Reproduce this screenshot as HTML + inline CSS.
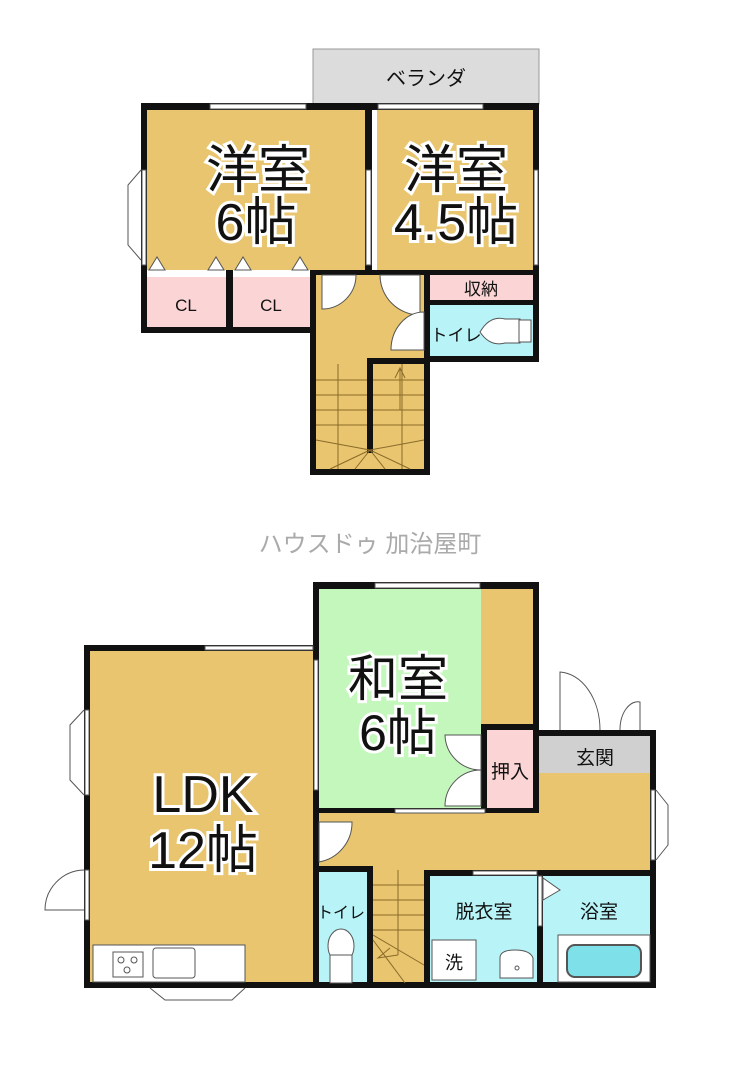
<!DOCTYPE html>
<html><head><meta charset="utf-8"><style>
html,body{margin:0;padding:0;background:#fff;}
svg{display:block;}
text{font-family:"Liberation Sans","Noto Sans CJK JP",sans-serif;fill:#111;}
</style></head><body>
<svg width="740" height="1090" viewBox="0 0 740 1090" xmlns="http://www.w3.org/2000/svg">
<rect x="313" y="49" width="226" height="55" fill="#dcdcdc" stroke="#999" stroke-width="1"/>
<text x="426" y="85" font-size="20" text-anchor="middle">ベランダ</text>
<rect x="147" y="110" width="218" height="160" fill="#e8c56e"/>
<rect x="377" y="110" width="156" height="165" fill="#e8c56e"/>
<rect x="147" y="275" width="79" height="52" fill="#fbd5d5"/>
<rect x="233" y="275" width="77" height="52" fill="#fbd5d5"/>
<rect x="147" y="270" width="163" height="7" fill="#fff"/>
<rect x="316" y="270" width="108" height="200" fill="#e8c56e"/>
<rect x="430" y="275" width="103" height="25" fill="#fbd5d5"/>
<rect x="430" y="305" width="103" height="52" fill="#b8f3f8"/>
<g fill="#111">
<rect x="141" y="103" width="398" height="7"/>
<rect x="141" y="103" width="6" height="230"/>
<rect x="141" y="327" width="175" height="6"/>
<rect x="226" y="270" width="7" height="63"/>
<rect x="365" y="103" width="7" height="172"/>
<rect x="533" y="103" width="6" height="259"/>
<rect x="310" y="270" width="6" height="205"/>
<rect x="424" y="270" width="6" height="205"/>
<rect x="310" y="469" width="120" height="6"/>
<rect x="310" y="270" width="229" height="5"/>
<rect x="430" y="300" width="109" height="5"/>
<rect x="430" y="356" width="109" height="6"/>
<rect x="367" y="358" width="63" height="6"/>
<rect x="367" y="358" width="6" height="95"/>
</g>
<g fill="#fff" stroke="#555" stroke-width="1">
<rect x="210" y="104" width="96" height="5"/>
<rect x="378" y="104" width="105" height="5"/>
<rect x="142" y="170" width="4" height="95"/>
<rect x="366" y="170" width="5" height="95"/>
<rect x="534" y="170" width="4" height="95"/>
</g>
<path d="M141 170 L128 185 L128 245 L141 260" fill="none" stroke="#555"/>
<g fill="#fff" stroke="#555" stroke-width="1">
<path d="M149 270 L157 257 L165 270Z"/><path d="M208 270 L216 257 L224 270Z"/>
<path d="M235 270 L243 257 L251 270Z"/><path d="M292 270 L300 257 L308 270Z"/>
</g>
<text x="186" y="311" font-size="17" text-anchor="middle">CL</text>
<text x="271" y="311" font-size="17" text-anchor="middle">CL</text>
<text x="258" y="188" font-size="52" text-anchor="middle" stroke="#fff" stroke-width="6" paint-order="stroke">洋室</text>
<text x="256" y="240" font-size="52" text-anchor="middle" stroke="#fff" stroke-width="6" paint-order="stroke">6帖</text>
<text x="456" y="188" font-size="52" text-anchor="middle" stroke="#fff" stroke-width="6" paint-order="stroke">洋室</text>
<text x="456" y="240" font-size="52" text-anchor="middle" stroke="#fff" stroke-width="6" paint-order="stroke">4.5帖</text>
<text x="481" y="295" font-size="17" text-anchor="middle">収納</text>
<text x="456" y="341" font-size="17" text-anchor="middle">トイレ</text>
<path d="M480 332 Q490 315 505 319 L520 319 L520 343 L505 343 Q490 347 480 332Z" fill="#fff" stroke="#555"/>
<rect x="519" y="320" width="12" height="22" fill="#fff" stroke="#555"/>
<g fill="#fff" stroke="#555" stroke-width="1">
<path d="M322 275 L356 275 A34 34 0 0 1 322 309Z"/>
<path d="M420 275 L380 275 A40 40 0 0 0 420 315Z"/>
<path d="M424 312 L424 350 L391 350 A33 38 0 0 1 424 312Z"/>
</g>
<g stroke="#8a6a2a" stroke-width="1">
<line x1="316" y1="380" x2="367" y2="380"/><line x1="316" y1="395" x2="367" y2="395"/><line x1="316" y1="410" x2="367" y2="410"/><line x1="316" y1="425" x2="367" y2="425"/>
<line x1="373" y1="380" x2="424" y2="380"/><line x1="373" y1="395" x2="424" y2="395"/><line x1="373" y1="410" x2="424" y2="410"/><line x1="373" y1="425" x2="424" y2="425"/>
<line x1="338" y1="364" x2="338" y2="469"/><line x1="402" y1="364" x2="402" y2="469"/>
<line x1="370" y1="450" x2="316" y2="440"/><line x1="370" y1="450" x2="330" y2="469"/><line x1="370" y1="450" x2="355" y2="469"/>
<line x1="370" y1="450" x2="385" y2="469"/><line x1="370" y1="450" x2="410" y2="469"/><line x1="370" y1="450" x2="424" y2="440"/>
<line x1="400" y1="410" x2="400" y2="368"/><path d="M395 378 L400 368 L405 378" fill="none"/>
</g>

<text x="370" y="552" font-size="24" text-anchor="middle" style="fill:#aaa">ハウスドゥ 加治屋町</text>

<rect x="90" y="651" width="223" height="331" fill="#e8c56e"/>
<rect x="319" y="589" width="162" height="219" fill="#c4f7bc"/>
<rect x="481" y="589" width="52" height="135" fill="#e8c56e"/>
<rect x="487" y="730" width="46" height="78" fill="#fbd5d5"/>
<rect x="313" y="813" width="337" height="57" fill="#e8c56e"/>
<rect x="539" y="736" width="111" height="37" fill="#d0d0d0"/>
<rect x="539" y="773" width="111" height="40" fill="#e8c56e"/>
<rect x="316" y="870" width="51" height="113" fill="#b8f3f8"/>
<rect x="373" y="870" width="51" height="113" fill="#e8c56e"/>
<rect x="430" y="876" width="107" height="107" fill="#b8f3f8"/>
<rect x="543" y="876" width="107" height="107" fill="#b8f3f8"/>
<g fill="#111">
<rect x="84" y="645" width="235" height="6"/>
<rect x="84" y="645" width="6" height="343"/>
<rect x="84" y="982" width="572" height="6"/>
<rect x="313" y="582" width="226" height="7"/>
<rect x="313" y="582" width="6" height="231"/>
<rect x="533" y="582" width="6" height="142"/>
<rect x="481" y="724" width="58" height="6"/>
<rect x="481" y="724" width="6" height="89"/>
<rect x="533" y="730" width="6" height="83"/>
<rect x="539" y="730" width="117" height="6"/>
<rect x="650" y="730" width="6" height="258"/>
<rect x="313" y="808" width="226" height="5"/>
<rect x="313" y="813" width="6" height="175"/>
<rect x="313" y="866" width="60" height="6"/>
<rect x="367" y="866" width="6" height="118"/>
<rect x="424" y="870" width="6" height="114"/>
<rect x="424" y="870" width="232" height="6"/>
<rect x="537" y="870" width="6" height="114"/>
</g>
<g fill="#fff" stroke="#555" stroke-width="1">
<rect x="375" y="583" width="105" height="5"/>
<rect x="205" y="646" width="108" height="4"/>
<rect x="314" y="660" width="4" height="130"/>
<rect x="85" y="710" width="4" height="85"/>
<rect x="85" y="870" width="4" height="50"/>
<rect x="651" y="790" width="4" height="70"/>
<rect x="395" y="809" width="90" height="4"/>
<rect x="473" y="871" width="64" height="4"/>
<rect x="538" y="876" width="4" height="50"/>
</g>
<path d="M84 710 L70 725 L70 780 L84 795" fill="none" stroke="#555"/>
<path d="M84 870 A40 40 0 0 0 45 910 L84 910" fill="#fff" stroke="#555"/>
<path d="M150 988 L165 1000 L232 1000 L245 988" fill="none" stroke="#555"/>
<path d="M656 790 L668 805 L668 845 L656 860" fill="none" stroke="#555"/>
<g fill="#fff" stroke="#555">
<path d="M560 730 L560 672 A42 58 0 0 1 600 730"/>
<path d="M640 730 L640 702 A18 28 0 0 0 620 730"/>
</g>
<g fill="#fff" stroke="#555">
<path d="M481 735 L445 735 A36 36 0 0 0 481 770Z"/>
<path d="M481 806 L445 806 A36 36 0 0 1 481 770Z"/>
<path d="M319 822 L319 862 A40 40 0 0 0 352 822Z"/>
<path d="M543 878 L543 900 L560 890Z"/>
</g>
<rect x="93" y="945" width="152" height="37" fill="#fff" stroke="#555"/>
<rect x="113" y="952" width="30" height="25" fill="#fff" stroke="#555"/>
<circle cx="121" cy="960" r="3" fill="none" stroke="#555"/><circle cx="134" cy="960" r="3" fill="none" stroke="#555"/><circle cx="127" cy="970" r="3" fill="none" stroke="#555"/>
<rect x="153" y="948" width="42" height="30" rx="3" fill="#fff" stroke="#555"/>
<ellipse cx="341" cy="946" rx="13" ry="17" fill="#fff" stroke="#555"/>
<rect x="330" y="955" width="22" height="28" fill="#fff" stroke="#555"/>
<g stroke="#8a6a2a">
<line x1="373" y1="885" x2="424" y2="885"/><line x1="373" y1="900" x2="424" y2="900"/><line x1="373" y1="915" x2="424" y2="915"/><line x1="373" y1="930" x2="424" y2="930"/>
<line x1="398" y1="870" x2="398" y2="955"/>
<line x1="373" y1="935" x2="424" y2="965"/><line x1="373" y1="940" x2="405" y2="983"/>
<path d="M398 955 L378 958 L390 948" fill="none"/>
</g>
<rect x="432" y="940" width="44" height="40" fill="#fff" stroke="#555"/>
<text x="454" y="969" font-size="18" text-anchor="middle">洗</text>
<path d="M500 958 Q500 950 515 950 Q530 950 533 958 L533 978 L500 978Z" fill="#fff" stroke="#555"/>
<circle cx="517" cy="968" r="2" fill="none" stroke="#555"/>
<rect x="558" y="935" width="92" height="47" fill="#fff" stroke="#555"/>
<rect x="567" y="945" width="74" height="32" rx="8" fill="#7ee0e8" stroke="#555" stroke-width="2"/>
<text x="484" y="918" font-size="19" text-anchor="middle">脱衣室</text>
<text x="599" y="918" font-size="19" text-anchor="middle">浴室</text>
<text x="341" y="918" font-size="16" text-anchor="middle">トイレ</text>
<text x="595" y="764" font-size="19" text-anchor="middle">玄関</text>
<text x="510" y="778" font-size="19" text-anchor="middle">押入</text>
<text x="398" y="696" font-size="50" text-anchor="middle" stroke="#fff" stroke-width="6" paint-order="stroke">和室</text>
<text x="398" y="750" font-size="50" text-anchor="middle" stroke="#fff" stroke-width="6" paint-order="stroke">6帖</text>
<text x="203" y="812" font-size="52" text-anchor="middle" stroke="#fff" stroke-width="6" paint-order="stroke">LDK</text>
<text x="203" y="868" font-size="52" text-anchor="middle" stroke="#fff" stroke-width="6" paint-order="stroke">12帖</text>
</svg>
</body></html>
